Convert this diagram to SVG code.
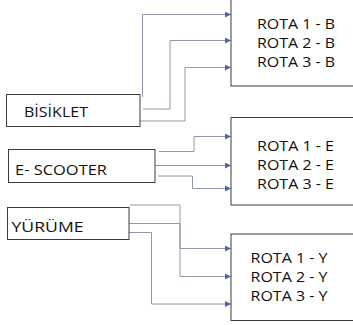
<svg xmlns="http://www.w3.org/2000/svg" width="353" height="325" viewBox="0 0 353 325">
<defs>
<style>
.box{fill:#fff;stroke:#3a3a3a;stroke-width:1}
.t{font-family:"Open Sans","Liberation Sans",sans-serif;font-size:14.5px;fill:#111}
.c{fill:none;stroke:#8f98ab;stroke-width:1}
</style>
<marker id="ah" markerWidth="6" markerHeight="6" refX="6" refY="3" orient="auto" markerUnits="userSpaceOnUse">
<path d="M0,0 L6,3 L0,6 Z" fill="#4f63b0"/>
</marker>
</defs>
<rect width="353" height="325" fill="#fff"/>
<g id="connectors">
<path class="c" d="M142.5,97 V14.5 H231" marker-end="url(#ah)"/>
<path class="c" d="M143,109 H170 V40.5 H231" marker-end="url(#ah)"/>
<path class="c" d="M140,121 H185 V67.5 H231" marker-end="url(#ah)"/>
<path class="c" d="M159,151.5 H194 V136.5 H231" marker-end="url(#ah)"/>
<path class="c" d="M155,165.5 H231" marker-end="url(#ah)"/>
<path class="c" d="M158,176 H192.5 V188.5 H231" marker-end="url(#ah)"/>
<path class="c" d="M130,205 H180 V248.5 H231" marker-end="url(#ah)"/>
<path class="c" d="M129,223.5 H180 V276.5 H231" marker-end="url(#ah)"/>
<path class="c" d="M129,232.5 H151.5 V304 H231" marker-end="url(#ah)"/>
</g>
<g id="rota-b">
<rect class="box" x="231" y="-5" width="140" height="91"/>
<text class="t" x="257" y="29" textLength="78" lengthAdjust="spacingAndGlyphs">ROTA 1 - B</text>
<text class="t" x="257" y="48" textLength="78" lengthAdjust="spacingAndGlyphs">ROTA 2 - B</text>
<text class="t" x="257" y="67" textLength="78" lengthAdjust="spacingAndGlyphs">ROTA 3 - B</text>
</g>
<g id="rota-e">
<rect class="box" x="231" y="117.5" width="140" height="87.5"/>
<text class="t" x="257" y="151" textLength="77" lengthAdjust="spacingAndGlyphs">ROTA 1 - E</text>
<text class="t" x="257" y="170" textLength="77" lengthAdjust="spacingAndGlyphs">ROTA 2 - E</text>
<text class="t" x="257" y="189" textLength="77" lengthAdjust="spacingAndGlyphs">ROTA 3 - E</text>
</g>
<g id="rota-y">
<rect class="box" x="231" y="234" width="140" height="86.5"/>
<text class="t" x="250.5" y="263" textLength="77" lengthAdjust="spacingAndGlyphs">ROTA 1 - Y</text>
<text class="t" x="250.5" y="281.5" textLength="77" lengthAdjust="spacingAndGlyphs">ROTA 2 - Y</text>
<text class="t" x="250.5" y="300.5" textLength="77" lengthAdjust="spacingAndGlyphs">ROTA 3 - Y</text>
</g>
<g id="bisiklet">
<rect class="box" x="6.5" y="94.5" width="133.5" height="32"/>
<text class="t" x="24" y="116.5" textLength="64" lengthAdjust="spacingAndGlyphs">BİSİKLET</text>
</g>
<g id="e-scooter">
<rect class="box" x="8.5" y="149.5" width="146.5" height="33"/>
<text class="t" x="15" y="175" textLength="92" lengthAdjust="spacingAndGlyphs">E- SCOOTER</text>
</g>
<g id="yurume">
<rect class="box" x="7.5" y="207.5" width="121.5" height="32"/>
<text class="t" x="11.5" y="232" textLength="72" lengthAdjust="spacingAndGlyphs">YÜRÜME</text>
</g>
</svg>
